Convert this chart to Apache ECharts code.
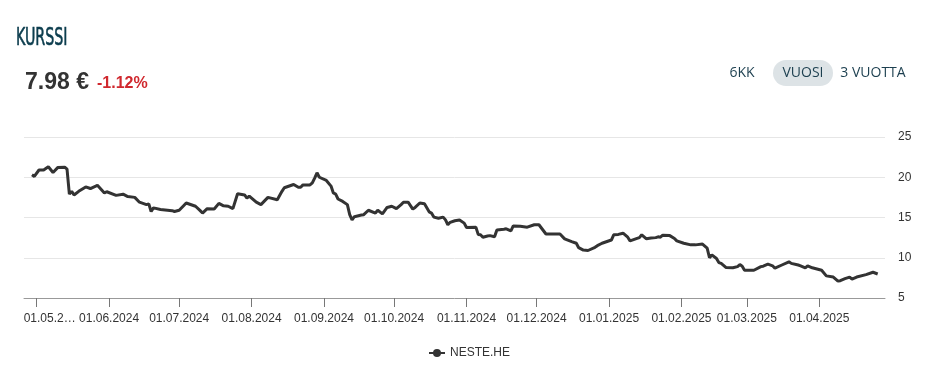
<!DOCTYPE html>
<html>
<head>
<meta charset="utf-8">
<script src="https://cdn.jsdelivr.net/npm/echarts@6/dist/echarts.min.js"></script>
<style>
html,body{margin:0;padding:0;background:#fff;}
#chart{width:947px;height:381px;}
</style>
</head>
<body>
<div id="chart"></div>
<script>
// ---- data ----
const seriesName = 'NESTE.HE';
const dates = [
'2024-04-29','2024-04-30','2024-05-02','2024-05-04','2024-05-06','2024-05-08','2024-05-10','2024-05-13','2024-05-14','2024-05-15',
'2024-05-16','2024-05-17','2024-05-19','2024-05-22','2024-05-24','2024-05-27','2024-05-30','2024-05-31','2024-06-04','2024-06-07',
'2024-06-09','2024-06-12','2024-06-14','2024-06-17','2024-06-18','2024-06-19','2024-06-20','2024-06-23','2024-06-28','2024-06-29',
'2024-07-01','2024-07-03','2024-07-04','2024-07-08','2024-07-10','2024-07-11','2024-07-13','2024-07-16','2024-07-18','2024-07-20',
'2024-07-22','2024-07-24','2024-07-26','2024-07-29','2024-07-30','2024-07-31','2024-08-03','2024-08-05','2024-08-08','2024-08-12',
'2024-08-14','2024-08-15','2024-08-19','2024-08-21','2024-08-22','2024-08-23','2024-08-26','2024-08-27','2024-08-28','2024-08-29',
'2024-08-30','2024-09-02','2024-09-04','2024-09-05','2024-09-06','2024-09-07','2024-09-09','2024-09-11','2024-09-12','2024-09-13',
'2024-09-14','2024-09-17','2024-09-18','2024-09-20','2024-09-23','2024-09-24','2024-09-26','2024-09-28','2024-09-30','2024-10-02',
'2024-10-04','2024-10-05','2024-10-07','2024-10-09','2024-10-10','2024-10-12','2024-10-14','2024-10-16','2024-10-17','2024-10-18',
'2024-10-20','2024-10-22','2024-10-23','2024-10-24','2024-10-25','2024-10-27','2024-10-29','2024-10-31','2024-11-01','2024-11-05',
'2024-11-06','2024-11-07','2024-11-08','2024-11-10','2024-11-11','2024-11-13','2024-11-14','2024-11-17','2024-11-18','2024-11-20',
'2024-11-21','2024-11-24','2024-11-27','2024-11-30','2024-12-02','2024-12-05','2024-12-08','2024-12-11','2024-12-13','2024-12-16',
'2024-12-18','2024-12-19','2024-12-21','2024-12-23','2024-12-26','2024-12-27','2024-12-29','2025-01-02','2025-01-03','2025-01-05',
'2025-01-07','2025-01-09','2025-01-10','2025-01-13','2025-01-14','2025-01-15','2025-01-17','2025-01-19','2025-01-21','2025-01-22',
'2025-01-23','2025-01-24','2025-01-27','2025-01-29','2025-01-30','2025-02-02','2025-02-05','2025-02-07','2025-02-10','2025-02-12',
'2025-02-13','2025-02-14','2025-02-16','2025-02-17','2025-02-18','2025-02-20','2025-02-23','2025-02-25','2025-02-26','2025-02-27',
'2025-02-28','2025-03-04','2025-03-07','2025-03-08','2025-03-10','2025-03-12','2025-03-13','2025-03-16','2025-03-19','2025-03-20',
'2025-03-23','2025-03-24','2025-03-26','2025-03-27','2025-03-29','2025-04-02','2025-04-04','2025-04-07','2025-04-09','2025-04-10',
'2025-04-12','2025-04-14','2025-04-15','2025-04-17','2025-04-21','2025-04-24','2025-04-26'
];
const prices = [
20.3,20.1,20.9,20.9,21.3,20.6,21.2,21.25,21.0,17.9,
18.25,17.8,18.25,18.8,18.6,19.0,18.05,18.2,17.75,17.9,
17.6,17.5,16.9,16.6,16.7,15.75,16.2,16.0,15.85,15.75,
15.9,16.5,16.8,16.4,15.85,15.55,16.1,16.05,16.75,16.45,
16.4,16.1,17.95,17.8,17.4,17.65,16.9,16.6,17.5,17.2,
18.25,18.7,19.1,18.75,18.75,19.05,19.05,19.3,19.9,20.55,
20.0,19.6,18.9,18.05,17.9,17.3,17.0,16.6,15.35,14.7,
15.1,15.3,15.35,15.9,15.55,15.9,15.45,16.25,16.4,16.1,
16.6,16.9,16.9,16.05,16.25,16.8,16.7,15.7,15.55,15.05,
14.9,15.05,14.7,14.1,14.4,14.6,14.7,14.3,13.75,13.8,
12.9,12.85,12.55,12.7,12.75,12.6,13.45,13.55,13.6,13.35,
13.95,13.9,13.8,14.1,14.1,12.95,12.95,12.95,12.35,12.0,
11.8,11.25,10.95,10.9,11.3,11.5,11.8,12.2,12.85,12.9,
13.05,12.55,12.1,12.4,12.5,12.85,12.35,12.45,12.5,12.6,
12.55,12.8,12.75,12.4,12.1,11.8,11.6,11.6,11.7,11.2,
10.0,10.35,9.9,9.4,9.3,8.8,8.75,8.9,9.15,8.95,
8.45,8.45,8.9,8.95,9.2,9.0,8.7,9.1,9.5,9.3,
9.1,9.0,8.75,9.0,8.75,8.45,7.75,7.6,7.1,7.15,
7.4,7.6,7.35,7.6,7.9,8.2,7.98
];
const tickDates = ['2024-05-01','2024-06-01','2024-07-01','2024-08-01','2024-09-01','2024-10-01','2024-11-01','2024-12-01','2025-01-01','2025-02-01','2025-03-01','2025-04-01'];
const tickLabels = ['01.05.2…','01.06.2024','01.07.2024','01.08.2024','01.09.2024','01.10.2024','01.11.2024','01.12.2024','01.01.2025','01.02.2025','01.03.2025','01.04.2025'];
const yTicks = [5, 10, 15, 20, 25];
const axisStart = '2024-04-25T14:00:00';
const axisEnd = '2025-04-29T03:00:00';
const titleText = 'KURSSI';
const priceText = '7.98 €';
const changeText = '-1.12%';
const rangeButtons = ['6KK', 'VUOSI', '3 VUOTTA'];

// ---- build ----
const ts = s => new Date(s.length > 10 ? s : s + 'T00:00:00').getTime();
const tickTs = tickDates.map(ts);
const seriesData = dates.map((d, i) => [ts(d), prices[i]]);

const chart = echarts.init(document.getElementById('chart'), null, {renderer: 'canvas'});
const btnFont = '500 14px "Open Sans", sans-serif';
const sans = '"Liberation Sans", Arial, sans-serif';
chart.setOption({
  animation: false,
  backgroundColor: '#fff',
  graphic: [
    {type: 'text', x: 16, y: 27, scaleX: 0.66, style: {text: titleText, font: '24px "DejaVu Sans Condensed","Liberation Sans",sans-serif', fill: '#0c3d4e', stroke: '#0c3d4e', lineWidth: 0.6}},
    {type: 'text', left: 25, top: 71, style: {text: priceText, font: 'bold 23px ' + sans, fill: '#333'}},
    {type: 'text', left: 97, top: 76, style: {text: changeText, font: 'bold 16px ' + sans, fill: '#d0282e'}},
    {type: 'rect', shape: {x: 773, y: 60, width: 60, height: 26, r: 13}, style: {fill: '#dde3e6'}},
    {type: 'text', x: 742, y: 73, style: {text: rangeButtons[0], font: btnFont, fill: '#1c3f4f', align: 'center', verticalAlign: 'middle'}},
    {type: 'text', x: 803, y: 73, style: {text: rangeButtons[1], font: btnFont, fill: '#1c3f4f', align: 'center', verticalAlign: 'middle'}},
    {type: 'text', x: 873, y: 73, style: {text: rangeButtons[2], font: btnFont, fill: '#1c3f4f', align: 'center', verticalAlign: 'middle'}}
  ],
  legend: {
    bottom: 17, left: 423,
    itemWidth: 16, itemHeight: 10, itemGap: 5,
    textStyle: {fontFamily: sans, fontSize: 12, color: '#333'},
    data: [seriesName]
  },
  grid: {left: 24, right: 62, top: 137, bottom: 83, containLabel: false},
  xAxis: {
    type: 'value',
    min: ts(axisStart), max: ts(axisEnd),
    axisLine: {show: true, lineStyle: {color: '#999', width: 1}},
    axisTick: {show: true, length: 9, lineStyle: {color: '#777'}, customValues: tickTs},
    axisLabel: {
      customValues: tickTs,
      margin: 15,
      showMinLabel: true, showMaxLabel: true,
      fontFamily: sans, fontSize: 12, color: '#333',
      formatter: v => { const i = tickTs.indexOf(v); return i === 0 ? '{first|' + tickLabels[i] + '}' : (i > 0 ? tickLabels[i] : ''); },
      rich: {first: {fontFamily: sans, fontSize: 12, color: '#333', padding: [0, 0, 0, 26]}}
    },
    splitLine: {show: false}
  },
  yAxis: {
    type: 'value', position: 'right',
    min: yTicks[0], max: yTicks[yTicks.length - 1], interval: 5,
    axisLine: {show: false}, axisTick: {show: false},
    axisLabel: {margin: 13, fontFamily: sans, fontSize: 12, color: '#333'},
    splitLine: {show: true, lineStyle: {color: '#e6e6e6', width: 1}}
  },
  series: [{
    name: seriesName, type: 'line', data: seriesData,
    symbol: 'circle', symbolSize: 7, showSymbol: false,
    lineStyle: {color: '#333', width: 3},
    itemStyle: {color: '#333'}
  }]
});
</script>
</body>
</html>
